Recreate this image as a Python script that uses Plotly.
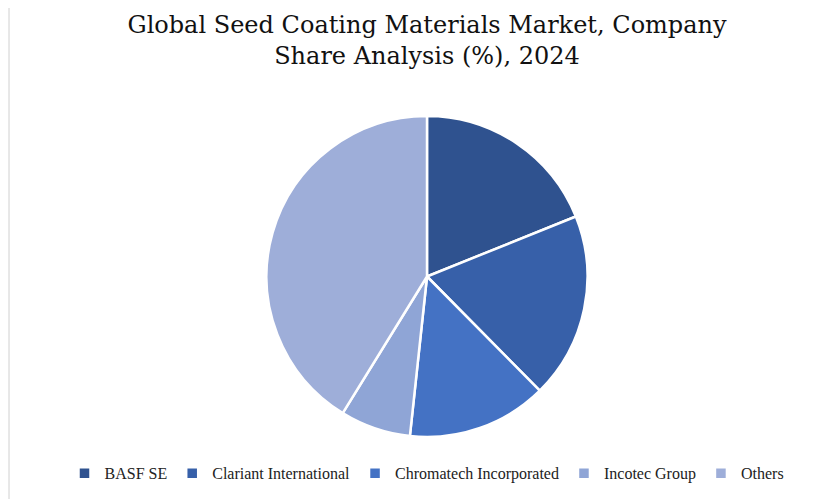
import plotly.graph_objects as go

labels = ["BASF SE", "Clariant International", "Chromatech Incorporated", "Incotec Group", "Others"]
values = [18.9, 18.7, 14.1, 7.1, 41.2]
colors = ["#2F528F", "#3760A9", "#4472C4", "#8FA5D6", "#9EAED9"]

fig = go.Figure(go.Pie(
    labels=labels, values=values, sort=False, direction="clockwise", rotation=0,
    marker=dict(colors=colors, line=dict(color="white", width=2.5)),
    textinfo="none", hoverinfo="label+percent",
))
fig.update_layout(
    width=838, height=499,
    paper_bgcolor="white",
    title=dict(text="Global Seed Coating Materials Market, Company<br>Share Analysis (%), 2024",
               x=0.5, xanchor="center", y=0.95, yanchor="top",
               font=dict(family="DejaVu Serif", size=24, color="#111")),
    margin=dict(l=10, r=10, t=108, b=70),
    legend=dict(orientation="h", x=0.5, xanchor="center", y=-0.06, yanchor="top",
                font=dict(family="Liberation Serif", size=16, color="#222"),
                itemwidth=30, tracegroupgap=0),
    shapes=[dict(type="rect", xref="paper", yref="paper", x0=-0.011, y0=-0.22, x1=1.011, y1=1.35,
                 line=dict(color="#d0d0d0", width=1))],
)
fig.write_html("out.html")
